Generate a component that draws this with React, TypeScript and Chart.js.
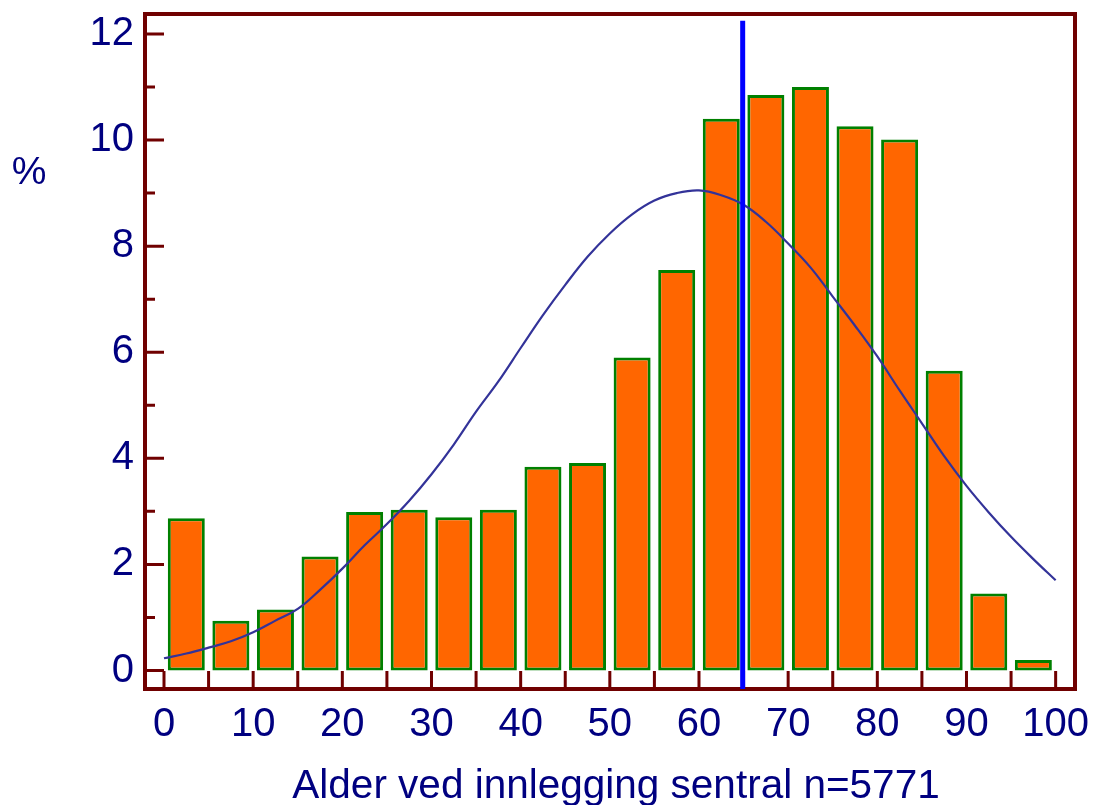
import React, { useEffect, useRef } from "react";
import { Chart, registerables } from "chart.js";

Chart.register(...registerables);

// ---- data ----
const binCenters = [2.5, 7.5, 12.5, 17.5, 22.5, 27.5, 32.5, 37.5, 42.5, 47.5, 52.5, 57.5, 62.5, 67.5, 72.5, 77.5, 82.5, 87.5, 92.5, 97.5];
const binPercent = [2.87, 0.94, 1.15, 2.15, 2.99, 3.03, 2.89, 3.03, 3.84, 3.91, 5.9, 7.55, 10.4, 10.85, 11.0, 10.26, 10.01, 5.65, 1.45, 0.2];

const curveAge = [0, 2.5, 5, 7.5, 10, 12.5, 15, 17.5, 20, 22.5, 25, 27.5, 30, 32.5, 35, 37.5, 40, 42.5, 45, 47.5, 50, 52.5, 55, 57.5, 60, 62.5, 65, 67.5, 70, 72.5, 75, 77.5, 80, 82.5, 85, 87.5, 90, 92.5, 95, 97.5, 100];
const curvePercent = [0.23, 0.32, 0.43, 0.55, 0.72, 0.94, 1.16, 1.52, 1.92, 2.36, 2.76, 3.2, 3.7, 4.26, 4.88, 5.45, 6.08, 6.7, 7.27, 7.8, 8.24, 8.6, 8.86, 9.0, 9.05, 8.96, 8.78, 8.46, 8.05, 7.6, 7.05, 6.5, 5.92, 5.28, 4.66, 4.04, 3.48, 2.98, 2.52, 2.1, 1.7];

const markerAge = [64.9, 64.9];
const markerPercent = [-0.349, 12.25];

const xTickValues = [0, 5, 10, 15, 20, 25, 30, 35, 40, 45, 50, 55, 60, 65, 70, 75, 80, 85, 90, 95, 100];
const xLabelValues = [0, 10, 20, 30, 40, 50, 60, 70, 80, 90, 100];
const yTickValues = [0, 1, 2, 3, 4, 5, 6, 7, 8, 9, 10, 11, 12];
const yLabelValues = [0, 2, 4, 6, 8, 10, 12];

const X_MIN = -2.131;
const X_MAX = 102.17;
const Y_MIN = -0.349;
const Y_MAX = 12.377;

const xAxisTitle = "Alder ved innlegging sentral n=5771";
const yAxisTitle = "%";

// ---- styles ----
const FONT = "'Liberation Sans', Arial, sans-serif";
const TEXT_COLOR = "#000080";
const FRAME_COLOR = "#700000";

const framePlugin = {
  id: "frameTicks",
  beforeDatasetsDraw(chart: any) {
    const { ctx, chartArea: a, scales } = chart;
    const x = scales.x;
    const y = scales.y;
    ctx.save();
    ctx.strokeStyle = FRAME_COLOR;
    ctx.lineWidth = 4;
    ctx.strokeRect(a.left, a.top, a.right - a.left, a.bottom - a.top);
    ctx.lineWidth = 3;
    ctx.beginPath();
    yTickValues.forEach((v) => {
      const py = y.getPixelForValue(v);
      const len = v % 2 === 0 ? 19 : 10;
      ctx.moveTo(a.left, py);
      ctx.lineTo(a.left + len, py);
    });
    xTickValues.forEach((v) => {
      const px = x.getPixelForValue(v);
      ctx.moveTo(px, a.bottom);
      ctx.lineTo(px, a.bottom - 18);
    });
    ctx.stroke();
    ctx.restore();
  },
  afterDraw(chart: any) {
    const { ctx } = chart;
    ctx.save();
    ctx.fillStyle = TEXT_COLOR;
    ctx.textBaseline = "alphabetic";
    ctx.textAlign = "center";
    ctx.font = `40.5px ${FONT}`;
    ctx.fillText(xAxisTitle, 616, 797.5);
    ctx.font = `39px ${FONT}`;
    ctx.fillText(yAxisTitle, 29, 184);
    ctx.restore();
  },
};

const zeroPadding = (s: any) => {
  s.paddingTop = 0;
  s.paddingBottom = 0;
  s.paddingLeft = 0;
  s.paddingRight = 0;
};

export default function App() {
  const ref = useRef<HTMLCanvasElement | null>(null);

  useEffect(() => {
    if (!ref.current) return;
    const chart = new Chart(ref.current, {
      type: "bar",
      data: {
        datasets: [
          {
            type: "line",
            data: markerAge.map((v, i) => ({ x: v, y: markerPercent[i] })),
            borderColor: "#0000ff",
            borderWidth: 5,
            pointRadius: 0,
            fill: false,
            order: 0,
          } as any,
          {
            type: "line",
            data: curveAge.map((v, i) => ({ x: v, y: curvePercent[i] })),
            borderColor: "#333399",
            borderWidth: 2.2,
            pointRadius: 0,
            tension: 0.4,
            fill: false,
            order: 1,
          } as any,
          {
            type: "bar",
            data: binCenters.map((v, i) => ({ x: v, y: binPercent[i] })),
            backgroundColor: "#ff6600",
            borderColor: "#008000",
            borderWidth: 3,
            borderSkipped: false,
            barPercentage: 0.83,
            categoryPercentage: 1,
            order: 2,
          } as any,
        ],
      },
      options: {
        responsive: false,
        animation: false,
        layout: { padding: { top: 14, right: 18, left: 0, bottom: 0 } },
        plugins: { legend: { display: false }, tooltip: { enabled: false } },
        scales: {
          x: {
            type: "linear",
            min: X_MIN,
            max: X_MAX,
            offset: false,
            grid: { display: false, drawTicks: false },
            border: { display: false },
            afterBuildTicks: (s: any) => {
              s.ticks = xTickValues.map((v) => ({ value: v }));
            },
            afterFit: (s: any) => {
              s.height = 116;
              zeroPadding(s);
            },
            ticks: {
              autoSkip: false,
              maxRotation: 0,
              minRotation: 0,
              padding: 12,
              color: TEXT_COLOR,
              font: { family: FONT, size: 40 },
              callback: (v: any) => (xLabelValues.includes(Number(v)) ? String(v) : ""),
            },
          },
          y: {
            type: "linear",
            min: Y_MIN,
            max: Y_MAX,
            grid: { display: false, drawTicks: false },
            border: { display: false },
            afterBuildTicks: (s: any) => {
              s.ticks = yTickValues.map((v) => ({ value: v }));
            },
            afterFit: (s: any) => {
              s.width = 145;
              zeroPadding(s);
            },
            ticks: {
              autoSkip: false,
              padding: 11,
              color: TEXT_COLOR,
              font: { family: FONT, size: 40 },
              callback: (v: any) => (yLabelValues.includes(Number(v)) ? String(v) : ""),
            },
          },
        },
      },
      plugins: [framePlugin],
    });
    return () => chart.destroy();
  }, []);

  return (
    <div style={{ position: "absolute", left: 0, top: 0, width: 1093, height: 805, background: "#ffffff" }}>
      <canvas ref={ref} width={1093} height={805} style={{ display: "block" }} />
    </div>
  );
}
